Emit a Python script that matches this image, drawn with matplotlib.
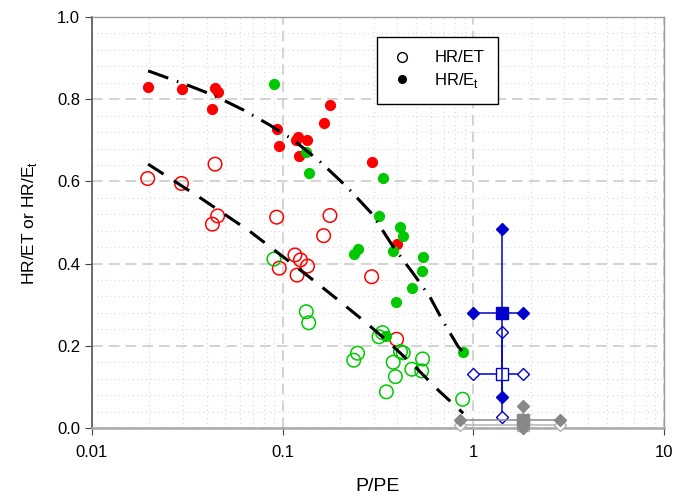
import matplotlib
matplotlib.use('Agg')
import matplotlib.pyplot as plt
from matplotlib.lines import Line2D
from matplotlib.ticker import FixedLocator, NullFormatter, FixedFormatter

plt.rcParams['font.family'] = ['Liberation Sans', 'DejaVu Sans']

# HR/ET (open circles), red group
red_open_x = [0.0196, 0.0295, 0.0442, 0.0456, 0.0428, 0.093, 0.096, 0.116, 0.124, 0.135,
              0.119, 0.164, 0.177, 0.293, 0.396]
red_open_y = [0.607, 0.595, 0.642, 0.516, 0.496, 0.513, 0.389, 0.421, 0.409, 0.394,
              0.372, 0.468, 0.517, 0.368, 0.216]
# HR/Et (filled), red group
red_fill_x = [0.0196, 0.0295, 0.0442, 0.0456, 0.0428, 0.093, 0.096, 0.117, 0.120, 0.122,
              0.135, 0.164, 0.177, 0.293, 0.396]
red_fill_y = [0.830, 0.825, 0.828, 0.818, 0.776, 0.727, 0.687, 0.700, 0.709, 0.663,
              0.701, 0.741, 0.786, 0.648, 0.448]
# green group
green_open_x = [0.090, 0.133, 0.137, 0.334, 0.320, 0.247, 0.236, 0.415, 0.429, 0.380,
                0.542, 0.476, 0.536, 0.390, 0.350, 0.879]
green_open_y = [0.411, 0.283, 0.256, 0.232, 0.222, 0.182, 0.165, 0.186, 0.183, 0.160,
                0.168, 0.143, 0.139, 0.125, 0.088, 0.070]
green_fill_x = [0.090, 0.133, 0.138, 0.320, 0.334, 0.412, 0.427, 0.380, 0.249, 0.236,
                0.542, 0.536, 0.476, 0.391, 0.879, 0.347]
green_fill_y = [0.837, 0.672, 0.620, 0.516, 0.609, 0.490, 0.467, 0.431, 0.435, 0.423,
                0.415, 0.382, 0.341, 0.307, 0.186, 0.225]

# fitted curves
fit_up_x = [0.0197, 0.0314, 0.0432, 0.0621, 0.0857, 0.1137, 0.157, 0.217, 0.293,
            0.380, 0.484, 0.592, 0.695, 0.833, 0.88]
fit_up_y = [0.869, 0.835, 0.810, 0.774, 0.737, 0.701, 0.648, 0.587, 0.522,
            0.441, 0.376, 0.319, 0.259, 0.198, 0.186]
fit_lo_x = [0.0197, 0.0384, 0.0675, 0.105, 0.1445, 0.196, 0.276, 0.365, 0.505, 0.655, 0.885]
fit_lo_y = [0.642, 0.555, 0.478, 0.410, 0.360, 0.311, 0.255, 0.206, 0.145, 0.092, 0.036]

# summary crosses: centre x, centre y, x low, x high, y low, y high
blue_fill = (1.42, 0.280, 1.00, 1.83, 0.075, 0.483)
blue_open = (1.42, 0.131, 1.00, 1.83, 0.026, 0.233)
gray_fill = (1.83, 0.020, 0.85, 2.85, 0.000, 0.054)
gray_open = (1.83, 0.007, 0.85, 2.85, 0.000, 0.012)

fig = plt.figure(figsize=(6.9, 4.97), dpi=100)
ax = fig.add_axes([0.1333, 0.1388, 0.829, 0.827])
ax.set_xscale('log')
ax.set_xlim(0.01, 10)
ax.set_ylim(0, 1.0)

# grid
ax.xaxis.set_major_locator(FixedLocator([0.01, 0.1, 1, 10]))
ax.xaxis.set_major_formatter(FixedFormatter(['0.01', '0.1', '1', '10']))
minx = [m * 10.0 ** e for e in (-2, -1, 0) for m in range(2, 10)]
ax.xaxis.set_minor_locator(FixedLocator(minx))
ax.xaxis.set_minor_formatter(NullFormatter())
ax.set_yticks([0, 0.2, 0.4, 0.6, 0.8, 1.0])
ax.set_yticklabels(['0.0', '0.2', '0.4', '0.6', '0.8', '1.0'])
ax.yaxis.set_minor_locator(FixedLocator([i * 0.04 for i in range(26) if i % 5]))
ax.grid(which='major', color='#c8c8c8', linestyle=(0, (7, 4)), linewidth=1.1)
ax.grid(which='minor', color='#d8d8d8', linestyle=(0, (1, 3)), linewidth=0.8)
ax.tick_params(which='minor', length=0)
ax.tick_params(which='major', direction='out', length=5, labelsize=12, color='#444444')
ax.tick_params(axis='x', which='major', pad=7)
ax.set_axisbelow(True)

for s in ['top', 'right']:
    ax.spines[s].set_color('#999999')
    ax.spines[s].set_linewidth(1.0)
ax.spines['left'].set_color('#555555')
ax.spines['left'].set_linewidth(1.2)
ax.spines['bottom'].set_color('#aaaaaa')
ax.spines['bottom'].set_linewidth(1.8)

red = '#ff0000'
green = '#00c800'
ax.scatter(red_open_x, red_open_y, s=95, facecolors='none', edgecolors=red, linewidths=1.1, zorder=3)
ax.scatter(green_open_x, green_open_y, s=95, facecolors='none', edgecolors=green, linewidths=1.1, zorder=3)
ax.scatter(red_fill_x, red_fill_y, s=50, color=red, zorder=3)
ax.scatter(green_fill_x, green_fill_y, s=50, color=green, zorder=3)

ax.plot(fit_up_x, fit_up_y, color='black', linewidth=2.2,
        linestyle=(0, (7, 3, 0.5, 3)), zorder=4)
ax.plot(fit_lo_x, fit_lo_y, color='black', linewidth=2.2,
        linestyle=(0, (6, 4)), zorder=4)


def cross(c, color, filled, z):
    cx, cy, x0, x1, y0, y1 = c
    face = color if filled else 'white'
    ax.plot([x0, x1], [cy, cy], color=color, linewidth=1.1, zorder=z, clip_on=False)
    ax.plot([cx, cx], [y0, y1], color=color, linewidth=1.1, zorder=z, clip_on=False)
    ax.plot([x0, x1], [cy, cy], linestyle='none', marker='D', markersize=6,
            markerfacecolor=face, markeredgecolor=color, markeredgewidth=1.0, zorder=z + 0.1, clip_on=False)
    ax.plot([cx, cx], [y0, y1], linestyle='none', marker='D', markersize=6,
            markerfacecolor=face, markeredgecolor=color, markeredgewidth=1.0, zorder=z + 0.1, clip_on=False)
    ax.plot([cx], [cy], linestyle='none', marker='s', markersize=9,
            markerfacecolor=face, markeredgecolor=color, markeredgewidth=1.0, zorder=z + 0.2, clip_on=False)


cross(blue_open, '#0000cc', False, 5)
cross(blue_fill, '#0000cc', True, 5.5)
cross(gray_open, '#b4b4b4', False, 5)
cross(gray_fill, '#888888', True, 5.5)

ax.set_xlabel('P/PE', fontsize=14, labelpad=13)
ax.set_ylabel('HR/ET or HR/E$_\\mathregular{t}$', fontsize=12.5, labelpad=13)

handles = [Line2D([], [], linestyle='none', marker='o', markersize=7, markerfacecolor='none',
                  markeredgecolor='black', markeredgewidth=1.0),
           Line2D([], [], linestyle='none', marker='o', markersize=5.5, color='black')]
leg = ax.legend(handles, ['HR/ET', 'HR/E$_\\mathregular{t}$'], loc='upper left',
                bbox_to_anchor=(0.498, 0.951), borderaxespad=0, fontsize=12, frameon=True,
                fancybox=False, edgecolor='black', framealpha=1, borderpad=0.8,
                handlelength=1.4, handletextpad=1.25, labelspacing=0.35)
leg.get_frame().set_linewidth(1.0)

fig.savefig('out.png', dpi=100)
